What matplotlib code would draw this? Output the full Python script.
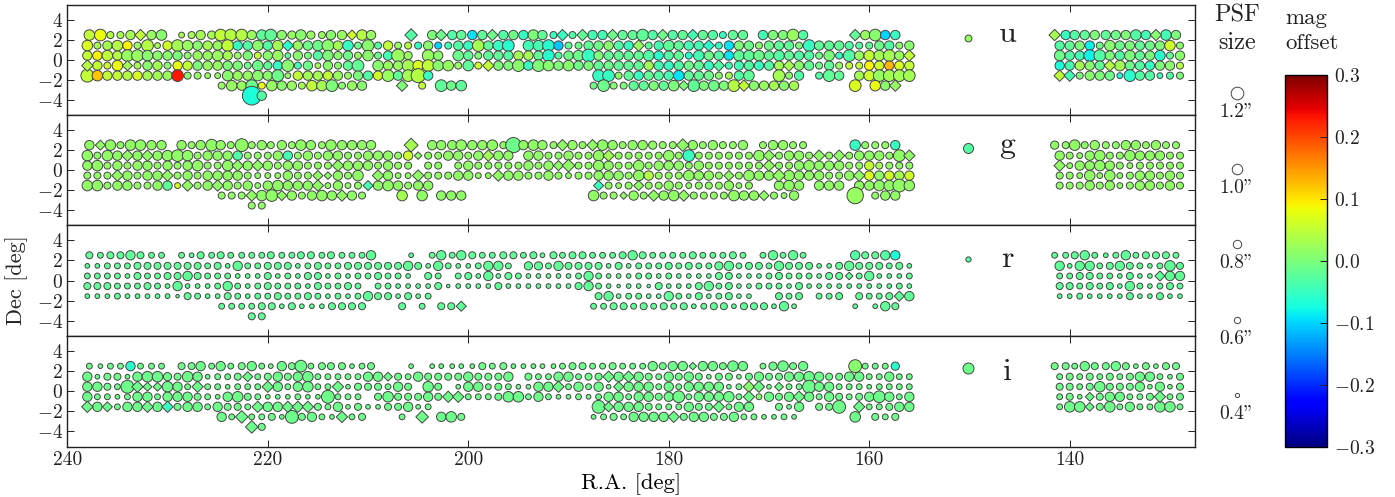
import matplotlib
matplotlib.use("Agg")
import matplotlib.pyplot as plt
from matplotlib.cm import ScalarMappable
from matplotlib.colors import Normalize

plt.rcParams['font.family'] = ['cmr10', 'DejaVu Serif']
plt.rcParams['mathtext.fontset'] = 'cm'
plt.rcParams['axes.formatter.use_mathtext'] = True
plt.rcParams['text.color'] = '#222222'

# field centres, one list per declination strip
ra_p25 = [237.8, 236.7, 235.7, 234.7, 233.7, 232.7, 231.6, 230.6, 228.6, 227.6, 226.7, 225.6, 224.7, 223.7, 222.6,
          221.6, 220.6, 219.7, 218.6, 217.6, 216.7, 215.7, 214.6, 213.7, 212.6, 211.6, 210.6, 209.7, 205.7, 203.6,
          202.7, 201.6, 200.7, 199.6, 198.6, 197.6, 196.5, 195.5, 194.5, 193.5, 192.6, 191.5, 190.6, 189.6, 188.6,
          187.6, 186.6, 185.6, 184.6, 183.6, 182.6, 181.6, 180.6, 179.6, 178.6, 177.6, 176.6, 175.6, 174.6, 173.6,
          172.6, 170.6, 169.6, 168.6, 167.6, 166.6, 161.4, 160.4, 159.4, 158.4, 157.4, 141.5, 140.4, 139.5, 138.5,
          137.5, 136.4, 135.4, 134.4, 133.4, 132.4, 131.4, 130.4, 129.4]
ra_p15 = [238, 237, 236, 235, 234, 233, 232, 231, 230, 229, 228, 227, 226, 225, 224, 223, 222, 221, 220, 219, 218, 217,
          216, 215, 214, 213, 212, 211, 210, 209, 208, 207, 206, 205, 204, 203, 202, 201, 200, 199, 198, 197, 196,
          194, 193, 192, 191, 190, 189, 188, 187, 186, 185, 184, 183, 182, 181, 180, 179, 178, 177, 176, 175, 174,
          173, 172, 171, 170, 169, 168, 167, 166, 165, 164, 163, 162, 161, 160, 159, 158, 157, 156,
          141, 140, 139, 138, 137, 136, 135, 134, 133, 132, 131, 130, 129]
ra_p05 = [238, 237, 236, 235, 234, 233, 232, 231, 230, 229, 228, 227, 226, 225, 224, 223, 222, 221, 220, 219, 218, 217,
          216, 215, 214, 213, 212, 211, 210, 209, 208, 207, 206, 204, 203, 201, 200, 199,
          198, 197, 196, 195, 194, 193, 192, 191, 190, 189, 188, 187, 186, 185, 184, 183, 182, 181, 180, 179, 178,
          177, 176, 175, 174, 173, 172, 171, 170, 169, 168, 167, 166, 165, 164, 163, 162, 161, 160, 159, 158, 157, 156,
          141, 140, 139, 138, 137, 136, 135, 134, 133, 132, 131, 130, 129]
ra_m05 = [238, 237, 236, 235, 234, 233, 232, 231, 230, 229, 228, 227, 226, 225, 224, 223, 222, 221, 220, 219, 218, 217,
          216, 215, 214, 213, 212, 211, 209, 208, 207, 206, 205, 204, 203, 202, 201, 200, 199,
          198, 197, 196, 195, 194, 193, 192, 191, 190, 189, 188, 187, 186, 185, 184, 183, 182, 181, 180, 179, 178,
          177, 176, 175, 174, 173, 172, 171, 170, 169, 168, 167, 166, 165, 164, 163, 162, 161, 160, 159, 158, 157, 156,
          141, 140, 139, 138, 137, 136, 135, 134, 133, 132, 131, 130, 129]
ra_m15 = [238, 237, 236, 235, 234, 233, 232, 231, 230, 229, 228, 227, 226, 225, 224, 223, 222, 221, 220, 219, 218, 217,
          216, 215, 214, 213, 212, 211, 210, 209, 208, 207, 206, 205, 204,
          187, 186, 185, 184, 183, 182, 181, 180, 179, 178, 177, 176, 175, 174, 173, 172,
          169, 168, 167, 165, 164, 163, 161, 160, 159, 158, 157, 156,
          141, 140, 139, 138, 137, 136, 135, 134, 133, 132, 131, 130, 129]
ra_m25 = [224.6, 223.6, 222.6, 221.6, 220.6, 219.6, 218.6, 217.6, 216.6, 215.6, 214.6, 213.6, 212.6, 211.6, 210.6,
          206.6, 204.6, 202.7, 201.7, 200.7,
          187.5, 186.5, 185.5, 184.5, 183.5, 182.5, 181.5, 180.5, 179.5, 178.5, 177.5, 176.5, 175.5, 174.5, 173.5,
          172.5, 171.5, 170.5, 169.5, 168.5, 167.5, 161.4, 159.4, 158.4, 157.4]
ra_m35 = [221.6, 220.6]
decs = [2.5, 1.45, 0.45, -0.55, -1.55, -2.55, -3.55]

# PSF size in units of 0.1 arcsec, offsets in units of 0.01 mag
u_psf_p25 = [9, 10, 6, 6, 8, 9, 8, 9, 5, 6, 8, 7, 10, 10, 10, 8, 9, 10, 8, 7, 9, 7, 6, 8, 8, 8, 9, 8, 10, 8, 9, 8, 8, 8, 8, 9,
             8, 8, 8, 9, 8, 6, 9, 6, 9, 8, 8, 9, 8, 8, 10, 8, 9, 8, 8, 9, 8, 8, 6, 8, 8,
             8, 8, 8, 10, 8, 9, 8, 10, 8, 8, 9, 8, 8, 8, 8, 8, 8, 8, 9, 8, 9, 9, 8]
u_off_p25 = [5, 8, 4, 3, 3, 5, 2, 1, 3, 3, 3, 3, 5, 4, 4, 2, -2, -2, 1, 2, 1, 2, 2, 1, 2, 6, 4, 2, -3, 0, -1, -3, -2, -9, -2, -1,
             -3, -1, -5, 0, -2, -5, -5, -3, -2, -4, -4, -1, -2, -2, -2, -3, -1, -3, -2, -4, -2, -3, -5, -2, -2,
             -4, 0, 0, 2, -3, -2, 2, 1, -10, -5, 3, -5, -3, -2, 0, -2, -1, 0, -3, -4, 1, -4, 0]
u_psf_p15 = [9, 6, 8, 9, 8, 6, 10, 5, 8, 10, 9, 8, 8, 8, 10, 8, 8, 9, 8, 9, 9, 8, 8, 9, 10, 8, 9, 6, 10, 6, 8, 6, 6, 6, 8, 6, 6, 8, 8, 10, 8,
             9, 10,
             9, 9, 10, 8, 6, 6, 8, 8, 8, 8, 8, 9, 6, 8, 9, 8, 8, 8, 9, 6, 8, 8, 8, 6, 8, 8, 8, 6, 10, 8, 8, 8, 7, 6, 6, 8, 8, 6, 8,
             8, 8, 8, 8, 6, 9, 8, 8, 8, 8, 8, 9, 6]
u_off_p15 = [7, 3, 3, 4, 9, 2, 4, 3, 6, 3, 2, 1, 3, 2, 5, -5, -3, 1, -3, 3, -6, 2, -1, -1, 1, 3, -5, -1, 1, -3, 5, 2, 4, -5, 1, -10, -4, -3, -5, 3, -2,
             -5, -6,
             -4, -4, -6, -11, -2, -1, -2, -1, 1, -3, -5, 2, -2, -4, -2, -2, -4, -4, -6, -5, -9, 0, -1, 1, -1, -2, -2, 0, -5, -2, -2, -2, -3, -3, -2, -1, -3, 1, 1,
             -3, -2, 0, -8, -1, 1, -1, 0, -2, -1, 0, 6, 1]
u_psf_p05 = [8, 8, 9, 8, 10, 10, 9, 8, 8, 8, 6, 8, 8, 9, 8, 6, 8, 6, 8, 9, 5, 8, 6, 8, 9, 7, 8, 6, 9, 6, 8, 11, 7, 10, 8, 9, 8, 6,
             8, 8, 8, 8, 8, 8, 10, 6, 8, 9, 11, 8, 8, 8, 8, 8, 9, 8, 8, 8, 6, 9, 8, 8, 8, 9, 9, 9, 8, 9, 8, 8, 8, 6, 9, 6, 10, 8, 9, 9, 10, 8, 9,
             9, 8, 8, 10, 10, 8, 8, 9, 8, 8, 9, 6, 8]
u_off_p05 = [5, 9, 5, 4, 2, 2, 1, 1, 1, 0, 1, 2, 2, 2, 3, 2, 0, 5, 1, 2, -2, 1, 0, -3, 0, 1, -1, 2, 1, -1, -4, 2, 2, 2, 1, -1, -2, 0,
             -2, -2, -3, 3, 3, -2, -6, -3, -1, -1, -5, 0, -2, -2, -2, -2, -3, -6, -3, -2, -6, -4, -1, -3, -9, -2, -2, -1, -2, -3, -2, -3, -3, -1, 0, -5, -3, 2, 5, 3, 3, 2, 5,
             -1, -3, -4, -8, -3, 0, -3, 0, -2, 0, -6, -2, 1]
u_psf_m05 = [9, 8, 6, 9, 8, 6, 8, 8, 6, 8, 8, 8, 8, 8, 8, 8, 6, 9, 7, 8, 10, 6, 8, 5, 8, 6, 8, 10, 9, 8, 8, 10, 9, 10, 9, 9, 6, 9, 6,
             9, 8, 8, 10, 8, 10, 9, 8, 9, 8, 8, 8, 8, 8, 8, 8, 8, 8, 8, 8, 8, 8, 8, 9, 6, 8, 8, 8, 8, 8, 9, 8, 8, 6, 8, 6, 6, 6, 8, 8, 8, 8, 8,
             8, 8, 8, 8, 8, 9, 9, 8, 8, 8, 8, 8, 6]
u_off_m05 = [4, 5, 6, 8, 3, 3, 1, 3, 1, 8, 5, 0, 2, 2, 0, 0, -1, -1, -2, -5, 1, -4, -1, 3, 1, 1, -2, -2, 1, 2, 2, 3, 7, 5, 1, 2, 2, -2, 6,
             5, 0, 0, 1, -5, 0, 1, 0, 1, -1, 0, -2, -1, -2, -2, -2, 3, -4, -5, -3, -1, -2, -5, -3, -4, -4, -3, -5, -3, 3, 3, 1, -2, -1, -2, 2, 5, 5, 9, 6, 13, 7, 5,
             -7, -4, 3, 1, -2, 4, 3, -1, -3, -5, 0, 1, 4]
u_psf_m15 = [11, 9, 8, 8, 8, 8, 8, 8, 8, 10, 6, 6, 5, 5, 9, 8, 8, 9, 8, 10, 5, 8, 8, 8, 8, 8, 6, 8, 8, 8, 10, 8, 10, 12, 8,
             10, 10, 6, 8, 8, 8, 8, 8, 9, 8, 8, 8, 6, 6, 8, 9,
             10, 6, 8, 6, 10, 8, 8, 9, 10, 10, 10, 10,
             9, 9, 6, 8, 8, 8, 5, 10, 8, 8, 5, 6, 6]
u_off_m15 = [5, 12, 5, 5, 4, 7, 3, 3, 2, 23, 1, 2, 2, 2, 1, 2, 2, 1, 1, -1, 2, 5, 3, 3, 5, 2, 2, 0, -3, 6, 2, -2, 3, 4, -5,
             -5, -5, 1, -2, -5, -2, -3, -4, -9, -2, -2, -1, 1, 3, -3, -2,
             3, 1, -3, -3, -2, -2, 3, 6, 2, 3, 3, 3,
             5, -4, 0, 1, 0, -1, -7, -6, -3, -3, -4, -3, 0]
u_psf_m25 = [6, 9, 8, 10, 6, 9, 8, 8, 6, 9, 9, 10, 6, 8, 8, 9, 6, 10, 8, 9,
             6, 10, 6, 6, 8, 8, 8, 8, 9, 8, 10, 8, 9, 8, 10, 9, 8, 8, 8, 8, 8, 10, 9, 8, 9]
u_off_m25 = [2, 2, 2, -1, 8, 2, 1, 2, 3, 5, 3, 0, 1, 2, 1, 0, 5, -2, -1, -2,
             -1, -1, 1, 0, -2, -2, 0, -2, 0, 0, -2, 0, -1, 0, 4, 5, 1, 2, 3, 1, 3, 7, 8, 1, 2]
u_psf_m35 = [16, 8]
u_off_m35 = [-7, -3]

g_psf_p25 = [8, 8, 9, 6, 9, 9, 8, 8, 8, 6, 8, 10, 8, 6, 11, 6, 8, 6, 8, 6, 9, 8, 6, 9, 8, 8, 8, 8, 11, 8, 8, 8, 9, 8, 8, 9,
             6, 13, 8, 9, 8, 6, 9, 8, 6, 9, 9, 8, 6, 8, 8, 7, 6, 6, 10, 8, 6, 8, 6, 6, 8,
             6, 8, 8, 6, 6, 9, 6, 6, 6, 8, 7, 6, 9, 6, 8, 6, 6, 8, 8, 6, 8, 6, 6]
g_psf_p15 = [9, 6, 9, 8, 9, 8, 9, 8, 9, 10, 9, 6, 8, 8, 8, 8, 6, 6, 6, 8, 8, 6, 8, 6, 8, 8, 6, 6, 8, 8, 8, 6, 8, 6, 6, 6, 8, 8, 6, 8, 9,
             8, 8,
             8, 8, 6, 6, 8, 6, 6, 9, 9, 6, 6, 6, 6, 6, 9, 6, 10, 6, 6, 6, 6, 6, 6, 9, 9, 6, 8, 8, 6, 9, 6, 9, 6, 8, 8, 8, 6, 10, 9,
             8, 6, 5, 8, 9, 6, 6, 9, 8, 8, 8, 6, 6]
g_psf_p05 = [8, 9, 6, 8, 6, 8, 8, 6, 8, 6, 8, 9, 6, 6, 9, 9, 8, 9, 8, 6, 8, 8, 6, 6, 6, 9, 8, 8, 8, 6, 8, 6, 6, 6, 6, 6, 8, 6,
             6, 6, 6, 6, 8, 6, 8, 8, 10, 6, 6, 9, 8, 6, 6, 9, 6, 8, 8, 8, 6, 8, 6, 6, 6, 6, 6, 6, 9, 6, 6, 8, 9, 8, 8, 8, 6, 6, 8, 6, 6, 6, 6,
             9, 5, 8, 8, 9, 8, 6, 5, 6, 6, 6, 6, 6]
g_psf_m05 = [6, 6, 6, 9, 8, 6, 8, 8, 9, 6, 8, 6, 8, 8, 8, 8, 6, 5, 5, 5, 8, 6, 6, 8, 6, 8, 6, 9, 9, 8, 5, 5, 9, 6, 6, 6, 8, 8, 5,
             5, 9, 8, 8, 6, 6, 8, 6, 5, 6, 6, 8, 8, 8, 6, 9, 8, 6, 6, 6, 9, 8, 8, 6, 8, 6, 9, 8, 8, 10, 9, 8, 8, 8, 6, 6, 8, 9, 8, 8, 8, 8, 8,
             6, 6, 5, 9, 5, 9, 5, 6, 8, 8, 6, 8, 6]
g_psf_m15 = [9, 9, 6, 8, 8, 6, 6, 8, 8, 5, 9, 6, 8, 9, 8, 6, 8, 5, 8, 9, 8, 8, 8, 9, 5, 8, 5, 6, 8, 8, 9, 8, 6, 8, 8,
             8, 6, 5, 6, 8, 6, 6, 8, 6, 5, 6, 6, 6, 8, 5, 6,
             8, 9, 8, 8, 8, 8, 8, 8, 9, 9, 11, 9,
             6, 6, 6, 8, 6, 8, 5, 6, 8, 8, 6, 8, 6]
g_psf_m25 = [6, 6, 6, 9, 9, 10, 8, 8, 6, 8, 9, 8, 9, 8, 6, 9, 9, 8, 8, 8,
             9, 6, 6, 6, 8, 6, 9, 8, 9, 9, 6, 6, 6, 6, 9, 8, 8, 8, 6, 5, 8, 14, 6, 8, 8]
g_psf_m35 = [6, 6]

r_psf_p25 = [6, 5, 6, 6, 8, 6, 5, 5, 5, 4, 6, 5, 6, 5, 5, 5, 5, 6, 5, 5, 6, 6, 5, 6, 5, 5, 5, 8, 4, 5, 8, 5, 8, 6, 5, 5,
             6, 6, 5, 6, 4, 6, 5, 6, 6, 5, 5, 5, 6, 8, 6, 5, 5, 5, 5, 6, 5, 5, 5, 6, 5,
             5, 8, 5, 8, 5, 8, 6, 6, 8, 8, 5, 5, 6, 8, 5, 4, 5, 8, 5, 6, 6, 6, 5]
r_psf_p15 = [4, 4, 5, 5, 5, 6, 6, 6, 6, 6, 6, 6, 5, 6, 4, 8, 5, 5, 6, 6, 6, 4, 5, 6, 5, 5, 6, 6, 6, 6, 6, 6, 8, 6, 4, 8, 5, 4, 4, 5, 8,
             8, 5,
             7, 7, 5, 8, 6, 6, 6, 6, 4, 6, 4, 5, 5, 5, 6, 5, 6, 5, 5, 7, 8, 5, 6, 6, 5, 8, 6, 6, 6, 4, 4, 6, 8, 6, 6, 6, 5, 6, 4,
             8, 4, 8, 8, 5, 6, 8, 6, 5, 4, 5, 9, 6]
r_psf_p05 = [5, 5, 5, 5, 4, 6, 5, 5, 6, 6, 8, 6, 5, 5, 5, 4, 4, 4, 6, 4, 5, 4, 6, 6, 4, 5, 4, 5, 5, 6, 5, 5, 4, 6, 5, 5, 6, 4,
             8, 4, 6, 5, 4, 4, 4, 4, 4, 5, 8, 5, 4, 4, 4, 5, 5, 4, 5, 4, 4, 4, 4, 6, 6, 4, 4, 4, 5, 6, 5, 5, 5, 4, 6, 6, 6, 5, 8, 4, 4, 4, 5,
             5, 5, 6, 6, 5, 5, 4, 6, 4, 4, 8, 8, 8]
r_psf_m05 = [6, 6, 6, 5, 5, 5, 6, 5, 4, 8, 4, 4, 4, 5, 8, 5, 4, 5, 6, 5, 5, 5, 4, 6, 5, 5, 6, 5, 5, 5, 4, 4, 4, 4, 6, 3, 4, 4, 4,
             4, 6, 4, 4, 4, 4, 4, 4, 4, 6, 8, 5, 4, 3, 4, 4, 3, 6, 4, 4, 4, 6, 8, 5, 6, 4, 4, 5, 5, 5, 4, 6, 4, 4, 4, 4, 4, 4, 4, 4, 4, 5, 4,
             6, 6, 5, 6, 5, 6, 4, 8, 5, 4, 5, 6, 5]
r_psf_m15 = [4, 4, 4, 5, 4, 4, 4, 4, 4, 3, 6, 5, 4, 4, 6, 5, 4, 5, 5, 6, 5, 5, 6, 5, 4, 5, 4, 5, 8, 6, 6, 4, 6, 4, 5,
             6, 8, 4, 5, 5, 4, 4, 8, 5, 4, 6, 4, 5, 6, 4, 4,
             6, 5, 6, 5, 5, 6, 6, 5, 5, 6, 8, 8,
             4, 4, 5, 4, 4, 4, 4, 6, 4, 4, 6, 4, 4]
r_psf_m25 = [5, 5, 5, 5, 6, 6, 4, 6, 4, 4, 4, 6, 6, 6, 6, 6, 5, 6, 6, 8,
             5, 5, 6, 6, 5, 6, 5, 6, 5, 6, 4, 5, 6, 6, 4, 6, 6, 6, 4, 8, 4, 4, 4, 8, 6]
r_psf_m35 = [6, 6]

i_psf_p25 = [5, 4, 5, 5, 8, 5, 5, 5, 6, 6, 8, 5, 8, 5, 6, 8, 5, 4, 8, 6, 10, 5, 6, 6, 6, 4, 5, 6, 4, 4, 4, 4, 4, 4, 6, 5,
             6, 4, 4, 4, 4, 4, 5, 6, 6, 5, 5, 6, 5, 5, 5, 8, 6, 8, 8, 6, 8, 8, 6, 9, 8,
             5, 7, 9, 6, 8, 11, 5, 5, 5, 7, 6, 6, 5, 8, 6, 6, 8, 6, 4, 6, 4, 6, 6]
i_psf_p15 = [8, 4, 6, 6, 4, 8, 9, 9, 7, 6, 9, 8, 4, 5, 5, 6, 8, 5, 6, 8, 6, 8, 9, 5, 5, 5, 5, 5, 8, 8, 7, 6, 5, 8, 6, 6, 6, 6, 8, 6, 6,
             6, 8,
             6, 5, 5, 8, 8, 5, 6, 6, 9, 8, 9, 8, 6, 5, 8, 6, 8, 6, 4, 6, 6, 4, 6, 8, 6, 6, 8, 8, 9, 8, 6, 6, 8, 8, 5, 5, 8, 5, 5,
             5, 6, 5, 6, 5, 6, 5, 6, 8, 8, 5, 4, 6]
i_psf_p05 = [8, 8, 6, 5, 11, 9, 7, 7, 9, 8, 5, 9, 5, 5, 4, 5, 5, 5, 9, 8, 5, 8, 9, 5, 5, 9, 4, 6, 6, 6, 5, 8, 6, 9, 6, 4, 8, 8,
             5, 6, 5, 4, 4, 8, 8, 9, 5, 8, 5, 8, 4, 8, 8, 8, 8, 5, 8, 5, 8, 8, 8, 8, 4, 5, 9, 9, 4, 7, 5, 5, 11, 8, 8, 5, 5, 5, 4, 5, 5, 5, 5,
             6, 6, 5, 6, 9, 6, 6, 6, 8, 4, 8, 4, 6]
i_psf_m05 = [8, 5, 5, 4, 5, 8, 8, 5, 8, 8, 8, 6, 5, 4, 8, 9, 6, 5, 4, 4, 4, 5, 4, 4, 11, 5, 5, 5, 6, 9, 6, 6, 6, 8, 6, 9, 9, 5, 5,
             5, 6, 9, 9, 5, 8, 5, 4, 4, 5, 4, 5, 8, 8, 5, 8, 8, 6, 8, 10, 5, 8, 8, 8, 9, 5, 9, 5, 8, 6, 8, 9, 8, 5, 8, 6, 5, 6, 8, 10, 8, 5, 8,
             5, 6, 4, 7, 6, 8, 8, 5, 5, 6, 9, 5, 6]
i_psf_m15 = [9, 8, 8, 5, 8, 8, 9, 8, 9, 6, 8, 8, 5, 8, 6, 6, 5, 9, 8, 8, 9, 9, 9, 6, 5, 8, 4, 6, 4, 4, 6, 6, 8, 4, 5,
             11, 8, 8, 8, 8, 6, 5, 5, 5, 8, 6, 6, 9, 5, 8, 8,
             6, 4, 8, 6, 6, 11, 9, 5, 5, 6, 8, 8,
             5, 9, 9, 7, 6, 9, 5, 8, 5, 5, 9, 9, 5]
i_psf_m25 = [8, 5, 10, 5, 5, 6, 4, 11, 6, 8, 5, 4, 9, 5, 6, 5, 10, 8, 9, 6,
             4, 5, 6, 5, 8, 8, 8, 8, 9, 6, 8, 8, 6, 6, 8, 5, 5, 4, 4, 5, 4, 9, 6, 5, 6]
i_psf_m35 = [10, 6]

# g, r and i are nearly flat in colour: a typical offset plus the fields that stand out (RA, Dec, offset)
g_off_typ = 1.5
r_off_typ = -2
i_off_typ = -1
g_off_other = [(230, -1.55, 5), (229, -1.55, 7), (206, 1.45, 6), (198, 1.45, 3), (186, 1.45, 3), (178, 1.45, -5), (223, 1.45, -3),
               (218, 1.45, -4), (210, -1.55, -4), (230, -1.55, -2), (160, 0.45, 5), (160, -0.55, 7), (158, -0.55, 6),
               (157, -0.55, 3), (156, -0.55, 6), (182, -0.55, 4), (161.4, 2.5, -5), (157.4, 2.5, -5), (187, -1.55, -5),
               (206.6, -2.55, 3), (161.4, -2.55, 2), (205.7, 2.5, 3), (195.5, 2.5, -1), (159, 0.45, 3)]
r_off_other = [(157.4, 2.5, -7), (158.4, 2.5, -3), (161.4, 2.5, -3)]
i_off_other = [(233.7, 2.5, -6), (157.4, 2.5, -6), (230, -1.55, -5), (161.4, 2.5, 1), (172, 0.45, 1), (171, -0.55, 1)]

# fields whose marker comes out as a diamond rather than a round one
u_diamonds = [(232.7, 2.5), (211.6, 2.5), (205.7, 2.5), (202.7, 2.5), (197.6, 2.5), (190.6, 2.5), (188.6, 2.5), (185.6, 2.5),
              (180.6, 2.5), (177.6, 2.5), (161.4, 2.5), (141.5, 2.5), (131.4, 2.5), (218, 1.45), (183, 1.45), (176, 1.45),
              (238, -0.55), (234, -0.55), (198, -0.55), (175, -0.55), (168, -0.55), (136, -0.55), (156, 0.45), (141, -1.55),
              (140, -1.55), (206.6, -2.55), (178.5, -2.55), (172.5, -2.55), (157.4, -2.55)]
g_diamonds = [(236.7, 2.5), (205.7, 2.5), (190.6, 2.5), (187.6, 2.5), (178.6, 2.5), (234, 1.45), (232, 1.45), (205, 1.45),
              (198, 1.45), (186, 1.45), (170, 1.45), (165, 1.45), (163, 1.45), (156, 1.45), (223, 0.45), (221, 0.45), (213, 0.45),
              (191, 0.45), (190, 0.45), (170, 0.45), (141, 0.45), (235, -0.55), (230, -0.55), (215, -0.55), (214, -0.55),
              (209, -0.55), (205, -0.55), (197, -0.55), (174, -0.55), (169, -0.55), (161, -0.55), (228, -1.55), (225, -1.55),
              (215, -1.55), (210, -1.55), (187, -1.55), (183, -1.55), (221.6, -2.55), (218.6, -2.55), (212.6, -2.55),
              (184.5, -2.55), (181.5, -2.55), (178.5, -2.55), (170.5, -2.55)]
r_diamonds = [(162, 0.45), (131, 0.45), (157, -1.55), (200.7, -2.55)]
i_diamonds = [(177.6, 2.5), (222, 1.45), (208, 1.45), (186, 1.45), (184, 1.45), (233, 0.45), (232, 0.45), (231, 0.45), (227, 0.45),
              (220, 0.45), (213, 0.45), (191, 0.45), (185, 0.45), (172, 0.45), (171, 0.45), (169, 0.45), (202, -0.55), (201, -0.55),
              (172, -0.55), (167, -0.55), (138, -0.55), (131, -0.55), (238, -1.55), (236, -1.55), (232, -1.55), (230, -1.55),
              (221, -1.55), (218, -1.55), (217, -1.55), (216, -1.55), (186, -1.55), (175, -1.55), (161, -1.55), (138, -1.55),
              (222.6, -2.55), (212.6, -2.55), (204.6, -2.55), (179.5, -2.55), (221.6, -3.55)]

# the reference star drawn in each panel
star_ra = 150.1
star_dec = [2.2, 2.2, 2.15, 2.3]
star_psf = [6.5, 9.5, 5, 10.5]
star_off = [2, -3, -3, -1]

bands = ['u', 'g', 'r', 'i']
band_dec = [1.8, 1.7, 1.35, 1.1]
legend_psf = [1.2, 1.0, 0.8, 0.6, 0.4]
legend_labels = ['1.2"', '1.0"', '0.8"', '0.6"', '0.4"']
cbar_ticks = [-0.3, -0.2, -0.1, 0.0, 0.1, 0.2, 0.3]

ras = [ra_p25, ra_p15, ra_p05, ra_m05, ra_m15, ra_m25, ra_m35]
psfs = {
    'u': [u_psf_p25, u_psf_p15, u_psf_p05, u_psf_m05, u_psf_m15, u_psf_m25, u_psf_m35],
    'g': [g_psf_p25, g_psf_p15, g_psf_p05, g_psf_m05, g_psf_m15, g_psf_m25, g_psf_m35],
    'r': [r_psf_p25, r_psf_p15, r_psf_p05, r_psf_m05, r_psf_m15, r_psf_m25, r_psf_m35],
    'i': [i_psf_p25, i_psf_p15, i_psf_p05, i_psf_m05, i_psf_m15, i_psf_m25, i_psf_m35],
}
u_offs = [u_off_p25, u_off_p15, u_off_p05, u_off_m05, u_off_m15, u_off_m25, u_off_m35]
off_typ = {'g': g_off_typ, 'r': r_off_typ, 'i': i_off_typ}
off_other = {'g': g_off_other, 'r': r_off_other, 'i': i_off_other}
diamonds = {'u': u_diamonds, 'g': g_diamonds, 'r': r_diamonds, 'i': i_diamonds}

W, H = 1395.0, 497.0
norm = Normalize(-0.3, 0.3)
EDGE = '#444444'


def px_axes(fig, x0, y0, x1, y1):
    return fig.add_axes([x0 / W, 1 - y1 / H, (x1 - x0) / W, (y1 - y0) / H])


def marker_area(psf_tenths, scale=1.17):
    # 1 arcsec is about 11 px across on the figure, 1 px is 0.72 pt
    return (psf_tenths * scale * 0.72) ** 2


fig = plt.figure(figsize=(W / 100, H / 100), dpi=100)
edges = [5, 115.2, 225, 336, 446.5]

for n, band in enumerate(bands):
    ax = px_axes(fig, 67.3, edges[n], 1195, edges[n + 1])
    extra = {(a, b): c for a, b, c in off_other.get(band, [])}
    dia = set(diamonds[band])
    circ = ([], [], [], [])
    diam = ([], [], [], [])
    for k, dec in enumerate(decs):
        row_psf = psfs[band][k]
        for j, ra in enumerate(ras[k]):
            off = u_offs[k][j] if band == 'u' else extra.get((ra, dec), off_typ[band])
            group = diam if (ra, dec) in dia else circ
            group[0].append(ra)
            group[1].append(dec)
            group[2].append(marker_area(row_psf[j]))
            group[3].append(off / 100.0)
    ax.scatter(circ[0], circ[1], s=circ[2], c=circ[3], cmap='jet', norm=norm, marker='o',
               edgecolors=EDGE, linewidths=0.7)
    if diam[0]:
        ax.scatter(diam[0], diam[1], s=[a * 0.58 for a in diam[2]], c=diam[3], cmap='jet', norm=norm, marker='D',
                   edgecolors=EDGE, linewidths=0.7)
    ax.scatter([star_ra], [star_dec[n]], s=marker_area(star_psf[n], 1.05), c=[star_off[n] / 100.0], cmap='jet', norm=norm,
               edgecolors=EDGE, linewidths=0.7)
    ax.text(146.2, band_dec[n], band, fontsize=23, ha='center', va='baseline')

    ax.set_xlim(240, 127.5)
    ax.set_ylim(-5.5, 5.5)
    ax.set_xticks([240, 220, 200, 180, 160, 140])
    ax.set_yticks([-4, -2, 0, 2, 4])
    ax.set_yticklabels(['$-4$', '$-2$', '$0$', '$2$', '$4$'])
    ax.tick_params(direction='in', top=True, right=True, length=5, width=0.7, labelsize=14, pad=3, colors='#222222')
    for sp in ax.spines.values():
        sp.set_linewidth(1.0)
        sp.set_color('#222222')
    if n < 3:
        ax.set_xticklabels([])
    else:
        ax.set_xticklabels(['240', '220', '200', '180', '160', '140'])
        ax.set_xlabel('R.A. [deg]', fontsize=16.3, labelpad=3)

fig.text(17 / W, 1 - 280 / H, 'Dec [deg]', rotation=90, fontsize=16, ha='center', va='center')

# PSF size key
key = px_axes(fig, 1200, 0, 1275, 497)
key.set_xlim(1200, 1275)
key.set_ylim(497, 0)
key.axis('off')
key_y = [93, 169, 243.5, 320, 395]
key_ly = [112, 188, 263.5, 339, 414]
for psf, lab, y, ly in zip(legend_psf, legend_labels, key_y, key_ly):
    key.scatter([1237], [y], s=marker_area(psf * 10, 1.05), facecolors='white', edgecolors=EDGE, linewidths=0.7)
    key.text(1237, ly, lab, fontsize=14, ha='center', va='center')

fig.text(1237 / W, 1 - 15 / H, 'PSF', fontsize=17.5, ha='center', va='center')
fig.text(1237 / W, 1 - 43 / H, 'size', fontsize=17.5, ha='center', va='center')
fig.text(1285 / W, 1 - 18 / H, 'mag', fontsize=16.5, ha='left', va='center')
fig.text(1285 / W, 1 - 43 / H, 'offset', fontsize=16.5, ha='left', va='center')

cax = px_axes(fig, 1285, 75, 1327, 447)
cb = fig.colorbar(ScalarMappable(norm=norm, cmap='jet'), cax=cax)
cb.set_ticks(cbar_ticks)
cb.set_ticklabels(['$-0.3$', '$-0.2$', '$-0.1$', '$0.0$', '$0.1$', '$0.2$', '$0.3$'])
cb.ax.tick_params(direction='in', length=5, width=0.7, labelsize=14, pad=5, colors='#222222')
cb.outline.set_linewidth(1.0)

fig.savefig('out.png', dpi=100)
